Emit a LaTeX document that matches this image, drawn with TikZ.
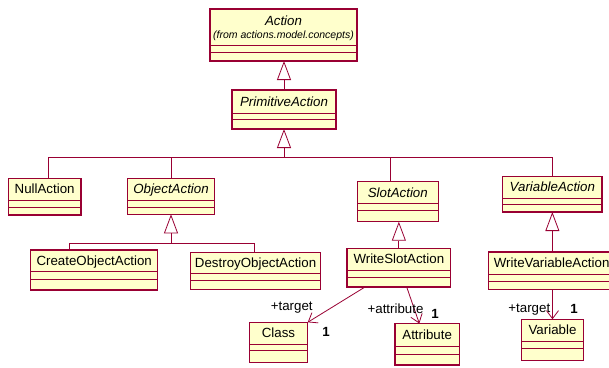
\documentclass[tikz,border=0pt]{standalone}
\usepackage{fontspec}
\setmainfont{Liberation Sans}
\usetikzlibrary{arrows.meta}
\definecolor{rose}{RGB}{153,0,51}
\definecolor{cfill}{RGB}{255,255,204}
\tikzset{
  cls/.style={draw=rose, fill=cfill, line width=1.2pt, inner sep=0pt, outer sep=0pt, rectangle},
  divline/.style={draw=rose, line width=1pt},
  lbl/.style={inner sep=0pt, text height=9.5pt, text depth=0pt, font=\fontsize{13.3}{15}\selectfont},
  ilbl/.style={lbl, font=\fontsize{13.3}{15}\selectfont\itshape},
  conn/.style={draw=rose, line width=0.8pt},
  gen/.style={conn, -{Triangle[open, fill=white, length=19pt, width=14pt]}},
  assoc/.style={conn, -{Straight Barb[length=8pt, width=12pt]}},
  mult/.style={lbl, font=\fontsize{13.3}{15}\selectfont\bfseries},
}
\newcommand\umlbox[9]{%
  \pgfmathsetmacro\bw{#4-#2}\pgfmathsetmacro\bh{#5-#3}%
  \node[cls, anchor=north west, minimum width=\bw pt, minimum height=\bh pt] (#1) at (#2,#3) {};
  \draw[divline] (#2,#6) -- (#4,#6) (#2,#7) -- (#4,#7);
  \node[#8] (#1t) at ({(#2+#4)/2},{(#3+#6)/2}) {#9};
}
\begin{document}
\begin{tikzpicture}[x=1pt,y=-1pt]
\useasboundingbox (0,0) rectangle (609,367);
\clip (0,0) rectangle (609,367);
\fill[white] (0,0) rectangle (609,367);

\umlbox{act}{210}{9}{357}{61}{45}{52.3}{ilbl}{}
\node[ilbl] (actn) at (283.5,20.7) {Action};
\node[inner sep=0pt, font=\fontsize{10.5}{12}\selectfont\itshape] (actf) at (283.5,36) {(from actions.model.concepts)};
\umlbox{prim}{232}{90}{336}{129}{113}{119.5}{ilbl}{PrimitiveAction}
\umlbox{null}{8.3}{178.3}{81}{215}{200}{207.3}{lbl}{NullAction}
\umlbox{oa}{127.7}{178.3}{214.3}{214.3}{200}{207}{ilbl}{ObjectAction}
\umlbox{sa}{357.3}{181.7}{438.3}{221.7}{203.3}{210.7}{ilbl}{SlotAction}
\umlbox{va}{502.7}{176.3}{602}{212}{198}{204.7}{ilbl}{VariableAction}
\umlbox{coa}{30.7}{250}{157.7}{290}{271.7}{279}{lbl}{CreateObjectAction}
\umlbox{doa}{190.7}{252.5}{320.5}{289.5}{273}{280.5}{lbl}{DestroyObjectAction}
\umlbox{wsa}{347}{248.3}{450.7}{287}{270}{277.3}{lbl}{WriteSlotAction}
\umlbox{wva}{488.3}{252}{615}{289.3}{274}{281}{lbl}{WriteVariableAction}
\umlbox{cl}{249.3}{322.3}{307.7}{362.7}{344}{350.7}{lbl}{Class}
\umlbox{attr}{395}{323.5}{459.3}{365}{346}{354}{lbl}{Attribute}
\umlbox{vr}{521.7}{319.3}{583.3}{360.7}{341}{348.3}{lbl}{Variable}

% generalizations
\draw[gen] (prim.north) -- (prim.north |- act.south);
\coordinate (bus) at (0,157);
\draw[conn] ([xshift=3.6pt]null.north) -- ([xshift=3.6pt]null.north |- bus) -- (va.north |- bus) -- (va.north);
\draw[conn] (oa.north) -- (oa.north |- bus);
\draw[conn] ([xshift=-7.1pt]sa.north) -- ([xshift=-7.1pt]sa.north |- bus);
\draw[gen] (prim.south |- bus) -- (prim.south);

\coordinate (bus2) at (0,243.5);
\draw[conn] ([xshift=-24.9pt]coa.north) -- ([xshift=-24.9pt]coa.north |- bus2) -- ([xshift=-1.6pt]doa.north |- bus2) -- ([xshift=-1.6pt]doa.north);
\draw[gen] (oa.south |- bus2) -- (oa.south);

\draw[gen] (wsa.north) -- (wsa.north |- sa.south);
\draw[gen] (va.south |- wva.north) -- (va.south);

% associations
\draw[assoc] ([xshift=-33.85pt]wsa.south) -- (cl.north east);
\draw[assoc] ([xshift=7.85pt]wsa.south) -- ([xshift=-7.85pt]attr.north);
\draw[assoc] (vr.north |- wva.south) -- (vr.north);

\node[lbl] (l1) at (291.7,305.7) {+target};
\node[mult] (m1) at (326,331.7) {1};
\node[lbl] (l2) at (395.5,309) {+attribute};
\node[mult] (m2) at (435,313.3) {1};
\node[lbl] (l3) at (529.3,307.3) {+target};
\node[mult] (m3) at (574,308.3) {1};
\end{tikzpicture}
\end{document}
